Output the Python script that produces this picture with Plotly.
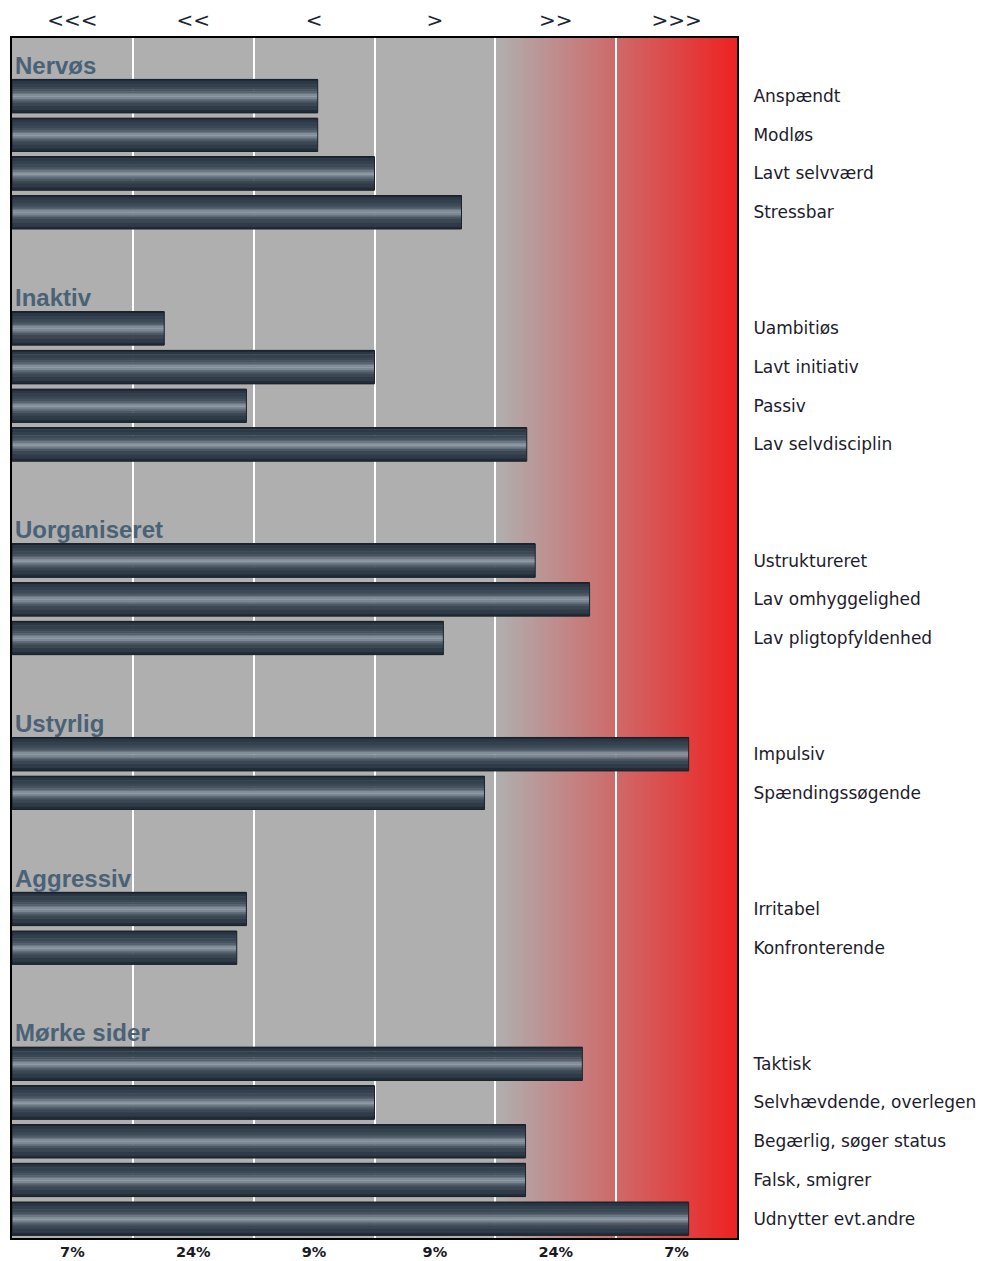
import plotly.graph_objects as go

# grupper og deres egenskaber (værdi i kolonne-enheder 0-6)
groups = ["Nervøs", "Inaktiv", "Uorganiseret", "Ustyrlig", "Aggressiv", "Mørke sider"]
group_items = [
    ["Anspændt", "Modløs", "Lavt selvværd", "Stressbar"],
    ["Uambitiøs", "Lavt initiativ", "Passiv", "Lav selvdisciplin"],
    ["Ustruktureret", "Lav omhyggelighed", "Lav pligtopfyldenhed"],
    ["Impulsiv", "Spændingssøgende"],
    ["Irritabel", "Konfronterende"],
    ["Taktisk", "Selvhævdende, overlegen", "Begærlig, søger status",
     "Falsk, smigrer", "Udnytter evt.andre"],
]
group_values = [
    [2.53, 2.53, 3.00, 3.72],
    [1.26, 3.00, 1.94, 4.26],
    [4.33, 4.78, 3.57],
    [5.60, 3.91],
    [1.94, 1.86],
    [4.72, 3.00, 4.25, 4.25, 5.60],
]
top_labels = ["<<<", "<<", "<", ">", ">>", ">>>"]
bottom_labels = ["7%", "24%", "9%", "9%", "24%", "7%"]

# række-positioner: overskrift, elementer, tom række
labels, values, rows, header_rows = [], [], [], []
r = 0
for g, items, vals in zip(groups, group_items, group_values):
    header_rows.append(r)
    r += 1
    for it, v in zip(items, vals):
        labels.append(it)
        values.append(v)
        rows.append(r)
        r += 1
    r += 1
last_row = rows[-1]

fig = go.Figure()

# metallisk gradient på søjlerne
bar_w = 0.86
bands = [
    (0.00, 0.04, "#1e2731"), (0.04, 0.12, "#2b3744"), (0.12, 0.22, "#33404d"),
    (0.22, 0.30, "#3b4856"), (0.30, 0.36, "#46535f"), (0.36, 0.42, "#56636f"),
    (0.42, 0.46, "#6b7783"), (0.46, 0.50, "#808c98"), (0.50, 0.55, "#8e9aa6"),
    (0.55, 0.59, "#7b8793"), (0.59, 0.64, "#616d79"), (0.64, 0.70, "#4b5864"),
    (0.70, 0.80, "#3b4753"), (0.80, 0.92, "#2f3b48"), (0.92, 1.00, "#222c37"),
]
for t0, t1, col in bands:
    fig.add_trace(go.Bar(
        x=values, y=rows, orientation="h",
        width=(t1 - t0) * bar_w + 0.012, offset=-bar_w / 2 + t0 * bar_w,
        marker=dict(color=col, line=dict(width=0)),
        showlegend=False, hoverinfo="skip",
    ))
fig.add_trace(go.Bar(
    x=values, y=rows, orientation="h", width=bar_w,
    marker=dict(color="rgba(0,0,0,0)", line=dict(color="#1a222b", width=1)),
    showlegend=False, hoverinfo="skip",
))
# usynligt spor til øverste akse
fig.add_trace(go.Scatter(x=[0.5], y=[0], xaxis="x2", mode="markers",
                         marker=dict(opacity=0), showlegend=False, hoverinfo="skip"))

# baggrund: grå -> rød over de to sidste kolonner
shapes = []
steps = 80
c0, c1 = (176, 176, 176), (238, 34, 34)
for i in range(steps):
    f = (i + 0.5) / steps
    col = tuple(round(a + (b - a) * f) for a, b in zip(c0, c1))
    shapes.append(dict(
        type="rect", xref="x", yref="paper", layer="below",
        x0=4 + 2 * i / steps, x1=4 + 2 * (i + 1) / steps + 0.01, y0=0, y1=1,
        fillcolor="rgb(%d,%d,%d)" % col, line=dict(width=0),
    ))

annotations = [
    dict(x=0, y=hr + 0.2, xref="x", yref="y", text=g, showarrow=False,
         xanchor="left", yanchor="middle", xshift=1,
         font=dict(family="Liberation Sans", size=24, color="#4a6276", weight="bold"))
    for g, hr in zip(groups, header_rows)
]

centers = [i + 0.5 for i in range(6)]
fig.update_layout(
    width=990, height=1261,
    margin=dict(l=12, r=253, t=38, b=23, autoexpand=False),
    paper_bgcolor="white", plot_bgcolor="#afafaf",
    barmode="overlay",
    shapes=shapes, annotations=annotations,
    xaxis=dict(
        range=[0, 6], tickvals=centers, ticktext=bottom_labels,
        showgrid=False, zeroline=False, ticks="", fixedrange=True,
        minor=dict(tick0=0, dtick=1, showgrid=True, gridcolor="white", gridwidth=2, ticks=""),
        showline=True, linecolor="black", linewidth=2, mirror=True,
        tickfont=dict(family="DejaVu Sans", size=14.5, color="#1a1a24", weight="bold"),
        ticklabelstandoff=0,
    ),
    xaxis2=dict(
        range=[0, 6], overlaying="x", side="top", tickvals=centers,
        ticktext=top_labels, showgrid=False, zeroline=False, ticks="",
        tickfont=dict(family="DejaVu Sans", size=20, color="#1c2436"),
        ticklabelstandoff=6,
    ),
    yaxis=dict(
        range=[last_row + 0.5, -0.5], side="right",
        tickvals=rows, ticktext=labels, ticks="",
        showgrid=False, zeroline=False,
        showline=True, linecolor="black", linewidth=2, mirror=True,
        tickfont=dict(family="DejaVu Sans", size=17, color="#1c1c2c"),
        ticklabelstandoff=11,
    ),
)

# siden skal ikke have standardmargen, så figuren fylder vinduet
fig.write_html("out.html", config={"displayModeBar": False},
               post_script="document.body.style.margin='0';")
